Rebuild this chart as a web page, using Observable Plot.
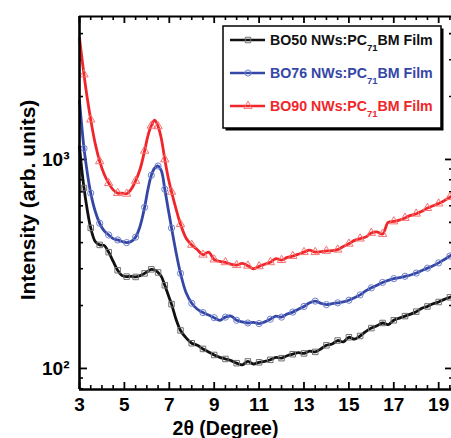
<!DOCTYPE html>
<html><head><meta charset="utf-8">
<script src="https://cdn.jsdelivr.net/npm/d3@7"></script>
<script src="https://cdn.jsdelivr.net/npm/@observablehq/plot@0.6"></script>
<style>
html,body{margin:0;padding:0;background:#fff;overflow:hidden;}
#chart{width:451px;height:438px;overflow:hidden;}
#chart svg{max-width:none !important;}
</style>
</head><body><div id="chart"></div>
<script>
// 2θ positions (degrees)
const twoTheta = [3.0,3.1,3.2,3.35,3.5,3.7,3.9,4.1,4.3,4.5,4.7,4.9,5.1,5.3,5.5,5.7,5.9,6.05,6.2,6.35,6.5,6.65,6.8,6.95,7.1,7.3,7.5,7.75,
  8.0,8.25,8.5,8.75,9.0,9.25,9.5,9.75,10.0,10.25,10.5,10.75,11.0,11.25,11.5,11.75,12,12.25,12.5,12.75,13,13.25,13.5,13.75,
  14,14.25,14.5,14.75,15,15.25,15.5,15.75,16,16.25,16.5,16.75,17,17.25,17.5,17.75,18,18.25,18.5,18.75,19,19.25,19.5,19.65];
const bo50 = [1150,900,730,570,470,405,390,388,360,325,295,278,275,276,274,278,285,292,298,296,288,275,250,225,203,172,152,140,
  132,129,124,120,116,113,111,109,106,104,108,105,107,108,110,113,112,115,117,119,118,121,120,124,
  129,131,136,134,141,138,143,150,156,160,165,162,170,174,178,182,187,194,198,204,208,214,219,222];
const bo76 = [1900,1450,1130,860,690,565,495,455,435,418,412,405,400,405,425,480,590,720,840,910,930,880,720,580,470,360,285,230,
  205,192,185,180,175,170,176,178,170,167,165,166,164,167,172,178,176,182,186,192,198,206,210,205,
  202,204,206,208,212,218,225,235,243,250,258,264,269,272,276,280,286,294,302,310,320,332,345,352];
const bo90 = [3800,3100,2550,1950,1550,1190,980,850,770,715,690,690,685,720,790,900,1100,1300,1450,1540,1440,1250,1000,820,700,580,490,420,
  390,370,350,360,332,325,322,315,312,318,310,300,308,315,322,335,330,340,345,352,360,368,360,362,
  365,366,370,383,395,410,418,425,445,450,440,500,505,512,525,540,550,565,585,600,615,635,660,672];

const seriesNames = ["BO50", "BO76", "BO90"];
const seriesValues = [bo50, bo76, bo90];
const seriesColors = ["#111111", "#3446a6", "#f0262a"];
const markerColors = ["#707070", "#7080cc", "#f77070"];
const markerSymbols = ["square", "circle", "triangle"];

const xTickLabels = [3,5,7,9,11,13,15,17,19];
const xMinorTicks = d3.range(3, 19.6, 0.5).filter(v => !xTickLabels.includes(v));
const yMajorTicks = [100, 1000];
const yTickLabels = ["10²", "10³"];
const yMinorTicks = [80, 90, 200, 300, 400, 500, 600, 700, 800, 900, 2000, 3000, 4000];
const xDomain = [3, 19.66];
const yDomain = [79.3, 4830];

const data = [];
seriesNames.forEach((s, k) => twoTheta.forEach((x, i) => data.push({series: s, k, i, x, y: seriesValues[k][i]})));

const W = 453, H = 438, mL = 79, mT = 16, mB = 49, mR = 0;
const iW = W - mL - mR, iH = H - mT - mB;
const font = "'Liberation Sans', Arial, Helvetica, sans-serif";

const plot = Plot.plot({
  width: W, height: H,
  marginLeft: mL, marginRight: mR, marginTop: mT, marginBottom: mB,
  style: {fontFamily: font, background: "#fff", maxWidth: "none"},
  x: {domain: xDomain},
  y: {type: "log", domain: yDomain},
  color: {domain: seriesNames, range: seriesColors},
  marks: [
    Plot.ruleX(xMinorTicks, {x: d => d, insetTop: iH - 4, stroke: "#000", strokeWidth: 1.6}),
    Plot.ruleX(xTickLabels, {x: d => d, insetTop: iH - 7, stroke: "#000", strokeWidth: 1.8}),
    Plot.ruleX(xMinorTicks, {x: d => d, insetBottom: iH - 4, stroke: "#000", strokeWidth: 1.6}),
    Plot.ruleX(xTickLabels, {x: d => d, insetBottom: iH - 7, stroke: "#000", strokeWidth: 1.8}),
    Plot.ruleY(yMinorTicks, {y: d => d, insetRight: iW - 4, stroke: "#000", strokeWidth: 1.6}),
    Plot.ruleY(yMajorTicks, {y: d => d, insetRight: iW - 8, stroke: "#000", strokeWidth: 1.8}),
    Plot.ruleY(yMinorTicks, {y: d => d, insetLeft: iW - 4, stroke: "#000", strokeWidth: 1.6}),
    Plot.ruleY(yMajorTicks, {y: d => d, insetLeft: iW - 8, stroke: "#000", strokeWidth: 1.8}),
    Plot.line(data, {x: "x", y: "y", z: "series", stroke: "series", strokeWidth: 2.8, curve: "catmull-rom"}),
    Plot.dot(data.filter(d => d.i % 2 === 0 && d.i > 0), {x: "x", y: "y", symbol: d => markerSymbols[d.k], stroke: d => markerColors[d.k], fill: "none", r: 3.1, strokeWidth: 1}),
    Plot.ruleX([xDomain[0]], {stroke: "#000", strokeWidth: 2.6}),
    Plot.ruleX([xDomain[1]], {stroke: "#000", strokeWidth: 2.6}),
    Plot.ruleY([yDomain[0]], {stroke: "#000", strokeWidth: 2.6}),
    Plot.ruleY([yDomain[1]], {stroke: "#000", strokeWidth: 2.2}),
    Plot.axisX({ticks: xTickLabels, tickSize: 0, tickPadding: 8, fontSize: 19, fontWeight: "bold", label: null, tickFormat: d => String(d)}),
    Plot.axisY({ticks: yMajorTicks, tickSize: 0, tickPadding: 10, fontSize: 19, fontWeight: "bold", label: null, tickFormat: (d) => yTickLabels[yMajorTicks.indexOf(d)]}),
    Plot.text(["2θ (Degree)"], {frameAnchor: "bottom", dx: -41, dy: 39, fontSize: 19.5, fontWeight: "bold", lineAnchor: "middle", textAnchor: "middle"}),
    Plot.text(["Intensity (arb. units)"], {frameAnchor: "left", dx: -51, dy: -3, rotate: -90, fontSize: 21, fontWeight: "bold", lineAnchor: "middle", textAnchor: "middle"})
  ]
});
document.getElementById("chart").appendChild(plot);

// legend
const svg = d3.select(plot);
const lg = svg.append("g").attr("font-family", font).attr("font-weight", "bold").attr("text-anchor", "start");
const bx = 223, by = 26, bw = 218, bh = 102;
lg.append("rect").attr("x", bx + 2.5).attr("y", by + 2.5).attr("width", bw).attr("height", bh).attr("fill", "#000");
lg.append("rect").attr("x", bx).attr("y", by).attr("width", bw).attr("height", bh).attr("fill", "#fff").attr("stroke", "#000").attr("stroke-width", 1.5);
const sym = [d3.symbolSquare, d3.symbolCircle, d3.symbolTriangle];
seriesNames.forEach((s, k) => {
  const cy = 40 + k * 33;
  lg.append("line").attr("x1", 230).attr("x2", 265).attr("y1", cy).attr("y2", cy).attr("stroke", seriesColors[k]).attr("stroke-width", 2.6);
  lg.append("path").attr("d", d3.symbol(sym[k], 30)()).attr("transform", `translate(248,${cy})`).attr("fill", "none").attr("stroke", markerColors[k]).attr("stroke-width", 1);
  const t = lg.append("text").attr("x", 270).attr("y", cy + 5).attr("fill", seriesColors[k]).attr("font-size", 14.2).attr("text-anchor", "start");
  t.append("tspan").text(s + " NWs:PC");
  t.append("tspan").attr("dy", 6).attr("font-size", 9.5).text("71");
  t.append("tspan").attr("dy", -6).attr("font-size", 14.2).text("BM Film");
});
</script>
</body></html>
